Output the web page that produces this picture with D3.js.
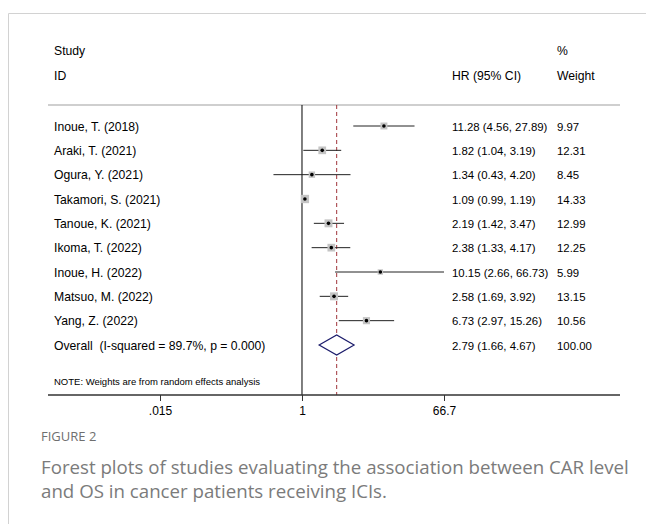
<!DOCTYPE html>
<html>
<head>
<meta charset="utf-8">
<script src="https://cdn.jsdelivr.net/npm/d3@7"></script>
<style>
  body { margin: 0; background: #fff; }
  svg { display: block; }
</style>
</head>
<body>
<div id="chart"></div>
<script>
// study data
const studies = ['Inoue, T. (2018)', 'Araki, T. (2021)', 'Ogura, Y. (2021)', 'Takamori, S. (2021)',
    'Tanoue, K. (2021)', 'Ikoma, T. (2022)', 'Inoue, H. (2022)', 'Matsuo, M. (2022)', 'Yang, Z. (2022)'];
const hr = [11.28, 1.82, 1.34, 1.09, 2.19, 2.38, 10.15, 2.58, 6.73];
const lower = [4.56, 1.04, 0.43, 0.99, 1.42, 1.33, 2.66, 1.69, 2.97];
const upper = [27.89, 3.19, 4.20, 1.19, 3.47, 4.17, 66.73, 3.92, 15.26];
const weights = [9.97, 12.31, 8.45, 14.33, 12.99, 12.25, 5.99, 13.15, 10.56];
const overall = { label: 'Overall  (I-squared = 89.7%, p = 0.000)', hr: 2.79, lower: 1.66, upper: 4.67, weight: '100.00' };
const tickValues = [0.015, 1, 66.7];
const tickLabels = ['.015', '1', '66.7'];

const width = 646, height = 524;
const fmt = d3.format('.2f');

const svg = d3.select('#chart').append('svg')
    .attr('width', width)
    .attr('height', height);

// card border
svg.append('path')
    .attr('d', 'M8.5,524 V13.5 H646')
    .attr('fill', 'none')
    .attr('stroke', '#d2d2d2')
    .attr('stroke-width', 1);

const rows = studies.concat([overall.label]);

const x = d3.scaleLog()
    .domain([0.015, 66.7])
    .range([160, 444]);

const y = d3.scalePoint()
    .domain(rows)
    .range([126, 345]);

const plotTop = 105, plotBottom = 395;
const font = 'Liberation Sans, Arial, sans-serif';
const numSize = '11.4px';

const g = svg.append('g')
    .style('font-family', font)
    .style('font-size', '12.2px')
    .attr('fill', '#000');

// headers
g.append('text').attr('x', 54).attr('y', 55).text('Study');
g.append('text').attr('x', 54).attr('y', 80).text('ID');
g.append('text').attr('x', 452).attr('y', 80).text('HR (95% CI)');
g.append('text').attr('x', 557).attr('y', 55).text('%');
g.append('text').attr('x', 557).attr('y', 80).text('Weight');

// separator line under header
g.append('line')
    .attr('x1', 48).attr('x2', 620)
    .attr('y1', plotTop).attr('y2', plotTop)
    .attr('stroke', '#cfcfcf')
    .attr('stroke-width', 2);

// null line
g.append('line')
    .attr('x1', x(1)).attr('x2', x(1))
    .attr('y1', plotTop).attr('y2', plotBottom)
    .attr('stroke', '#000')
    .attr('stroke-width', 1);

// overall effect dashed line
g.append('line')
    .attr('x1', x(overall.hr)).attr('x2', x(overall.hr))
    .attr('y1', plotTop).attr('y2', plotBottom)
    .attr('stroke', '#a0343a')
    .attr('stroke-width', 1)
    .attr('stroke-dasharray', '4,3');

// study rows
const data = studies.map((s, i) => ({ study: s, hr: hr[i], lo: lower[i], hi: upper[i], w: weights[i] }));

const row = g.selectAll('.row')
    .data(data)
    .enter().append('g')
    .attr('class', 'row');

row.append('line')
    .attr('x1', d => x(d.lo))
    .attr('x2', d => x(d.hi))
    .attr('y1', d => y(d.study))
    .attr('y2', d => y(d.study))
    .attr('stroke', '#222')
    .attr('stroke-width', 1);

const boxSize = w => 2.2 * Math.sqrt(w);

row.append('rect')
    .attr('x', d => x(d.hr) - boxSize(d.w) / 2)
    .attr('y', d => y(d.study) - boxSize(d.w) / 2)
    .attr('width', d => boxSize(d.w))
    .attr('height', d => boxSize(d.w))
    .attr('fill', '#c4c4c4');

row.append('circle')
    .attr('cx', d => x(d.hr))
    .attr('cy', d => y(d.study))
    .attr('r', 1.8)
    .attr('fill', '#000');

row.append('text')
    .attr('x', 54)
    .attr('y', d => y(d.study) + 4.5)
    .text(d => d.study);

row.append('text')
    .attr('x', 452)
    .attr('y', d => y(d.study) + 4.5)
    .style('font-size', numSize)
    .text(d => `${fmt(d.hr)} (${fmt(d.lo)}, ${fmt(d.hi)})`);

row.append('text')
    .attr('x', 557)
    .attr('y', d => y(d.study) + 4.5)
    .style('font-size', numSize)
    .text(d => fmt(d.w));

// overall diamond
const oy = y(overall.label);
g.append('path')
    .attr('d', `M${x(overall.lower)},${oy} L${x(overall.hr)},${oy - 10} L${x(overall.upper)},${oy} L${x(overall.hr)},${oy + 10} Z`)
    .attr('fill', '#fff')
    .attr('stroke', '#1c1c6b')
    .attr('stroke-width', 1.2);

g.append('text').attr('x', 54).attr('y', oy + 4.5).attr('xml:space', 'preserve').text(overall.label);
g.append('text').attr('x', 452).attr('y', oy + 4.5)
    .style('font-size', numSize)
    .text(`${fmt(overall.hr)} (${fmt(overall.lower)}, ${fmt(overall.upper)})`);
g.append('text').attr('x', 557).attr('y', oy + 4.5)
    .style('font-size', numSize)
    .text(overall.weight);

// note
g.append('text')
    .attr('x', 54).attr('y', 385)
    .style('font-size', '9.5px')
    .text('NOTE: Weights are from random effects analysis');

// bottom axis line
g.append('line')
    .attr('x1', 48).attr('x2', 620)
    .attr('y1', plotBottom).attr('y2', plotBottom)
    .attr('stroke', '#333')
    .attr('stroke-width', 1.5);

const axis = d3.axisBottom(x)
    .tickValues(tickValues)
    .tickFormat((d, i) => tickLabels[i])
    .tickSize(6)
    .tickPadding(5);

const axisG = g.append('g')
    .attr('transform', `translate(0, ${plotBottom})`)
    .call(axis);
axisG.select('.domain').remove();
axisG.selectAll('text')
    .style('font-family', font)
    .style('font-size', '12px')
    .attr('fill', '#000');
axisG.selectAll('line').attr('stroke', '#333');

// caption
const cap = svg.append('g')
    .style('font-family', 'Open Sans, sans-serif')
    .attr('fill', '#7b7b7b');
cap.append('text')
    .attr('x', 41).attr('y', 441)
    .style('font-size', '13px')
    .attr('fill', '#6f6f6f')
    .text('FIGURE 2');
cap.append('text')
    .attr('x', 41).attr('y', 474)
    .style('font-size', '18.7px')
    .text('Forest plots of studies evaluating the association between CAR level');
cap.append('text')
    .attr('x', 41).attr('y', 498)
    .style('font-size', '18.7px')
    .text('and OS in cancer patients receiving ICIs.');
</script>
</body>
</html>
